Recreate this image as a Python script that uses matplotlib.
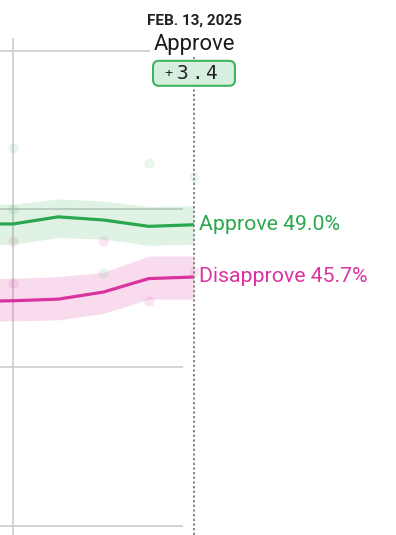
import matplotlib
matplotlib.use("Agg")
import matplotlib.pyplot as plt
from matplotlib.patches import FancyBboxPatch
from matplotlib.transforms import IdentityTransform, blended_transform_factory

# daily averages (Feb. 8 - Feb. 13, 2025)
days = [8, 9, 10, 11, 12, 13]
approve = [49.05, 49.05, 49.5, 49.3, 48.9, 49.0]
approve_hi = [50.25, 50.3, 50.63, 50.5, 50.15, 50.2]
approve_lo = [47.7, 47.77, 48.19, 48.1, 47.7, 47.77]
disapprove = [44.15, 44.2, 44.3, 44.75, 45.6, 45.7]
disapprove_hi = [45.6, 45.62, 45.72, 46.0, 47.03, 47.03]
disapprove_lo = [42.9, 42.92, 42.99, 43.4, 44.3, 44.3]

# individual polls
approve_poll_days = [9, 9, 11, 12, 13]
approve_polls = [53.85, 50.0, 45.96, 52.9, 52.0]
disapprove_poll_days = [9, 9, 11, 12, 13]
disapprove_polls = [47.98, 45.33, 47.98, 44.19, 46.0]

grid_values = [30, 40, 50, 60]
date_label = "FEB. 13, 2025"
leader = "Approve"
margin = "+3.4"

green = "#2ba84e"
pink = "#d9339f"

fig = plt.figure(figsize=(3.96, 5.35), dpi=100)
ax = fig.add_axes([0, 0, 1, 1])
ax.set_xlim(8.713, 17.464)
ax.set_ylim(29.4, 63.2)
ax.axis("off")

# grid
for v in grid_values:
    x_end = 12.03 if v == 60 else 12.757
    ax.hlines(v, 8.713, x_end, color="#cccccc", lw=1.2, zorder=0)
ax.vlines(9, 29.4, 60.8, color="#cccccc", lw=1.2, zorder=0)

# polls
ax.scatter(approve_poll_days, approve_polls, s=55, color=green, alpha=0.1, lw=0, zorder=1)
ax.scatter(disapprove_poll_days, disapprove_polls, s=55, color=pink, alpha=0.12, lw=0, zorder=1)

# uncertainty bands
ax.fill_between(days, approve_lo, approve_hi, color=green, alpha=0.15, lw=0, zorder=2)
ax.fill_between(days, disapprove_lo, disapprove_hi, color=pink, alpha=0.17, lw=0, zorder=2)

# averages
ax.plot(days, approve, color=green, lw=2.3, zorder=3, solid_capstyle="butt")
ax.plot(days, disapprove, color=pink, lw=2.3, zorder=3, solid_capstyle="butt")

# current date marker
ax.vlines(days[-1], 29.4, 59.6, color="#888888", lw=1.4, linestyles=(0, (1.2, 1.2)), zorder=4)

ax.text(days[-1] + 0.11, approve[-1], f"Approve {approve[-1]:.1f}%", color=green,
        fontsize=15.3, family="Roboto", va="center", ha="left")
ax.text(days[-1] + 0.11, disapprove[-1], f"Disapprove {disapprove[-1]:.1f}%", color=pink,
        fontsize=15.3, family="Roboto", va="center", ha="left")

# header
tr = blended_transform_factory(ax.transData, ax.transAxes)
ax.text(days[-1], 0.962, date_label, transform=tr, ha="center", va="center",
        fontsize=11, fontweight="bold", family="Roboto", color="#222222")
ax.text(days[-1], 0.917, leader, transform=tr, ha="center", va="center",
        fontsize=15.8, family="Roboto", color="#1a1a1a")

# margin badge
cx, cy = tr.transform((days[-1], 0.863))
box = FancyBboxPatch((cx - 41, cy - 12.5), 82, 25, boxstyle="round,pad=0,rounding_size=6",
                     transform=IdentityTransform(), facecolor="#d5eedd",
                     edgecolor="#3db55f", lw=1.5, zorder=5)
ax.add_patch(box)
for i, ch in enumerate(margin):
    ax.annotate(ch, xy=(days[-1], 0.863), xycoords=tr, xytext=(-25.5 + i * 14.3, 0),
                textcoords="offset pixels", ha="center", va="center",
                fontsize=14 if ch != "+" else 9.5, family="DejaVu Sans Mono",
                color="#222222", zorder=6)

fig.savefig("out.png", dpi=100)
